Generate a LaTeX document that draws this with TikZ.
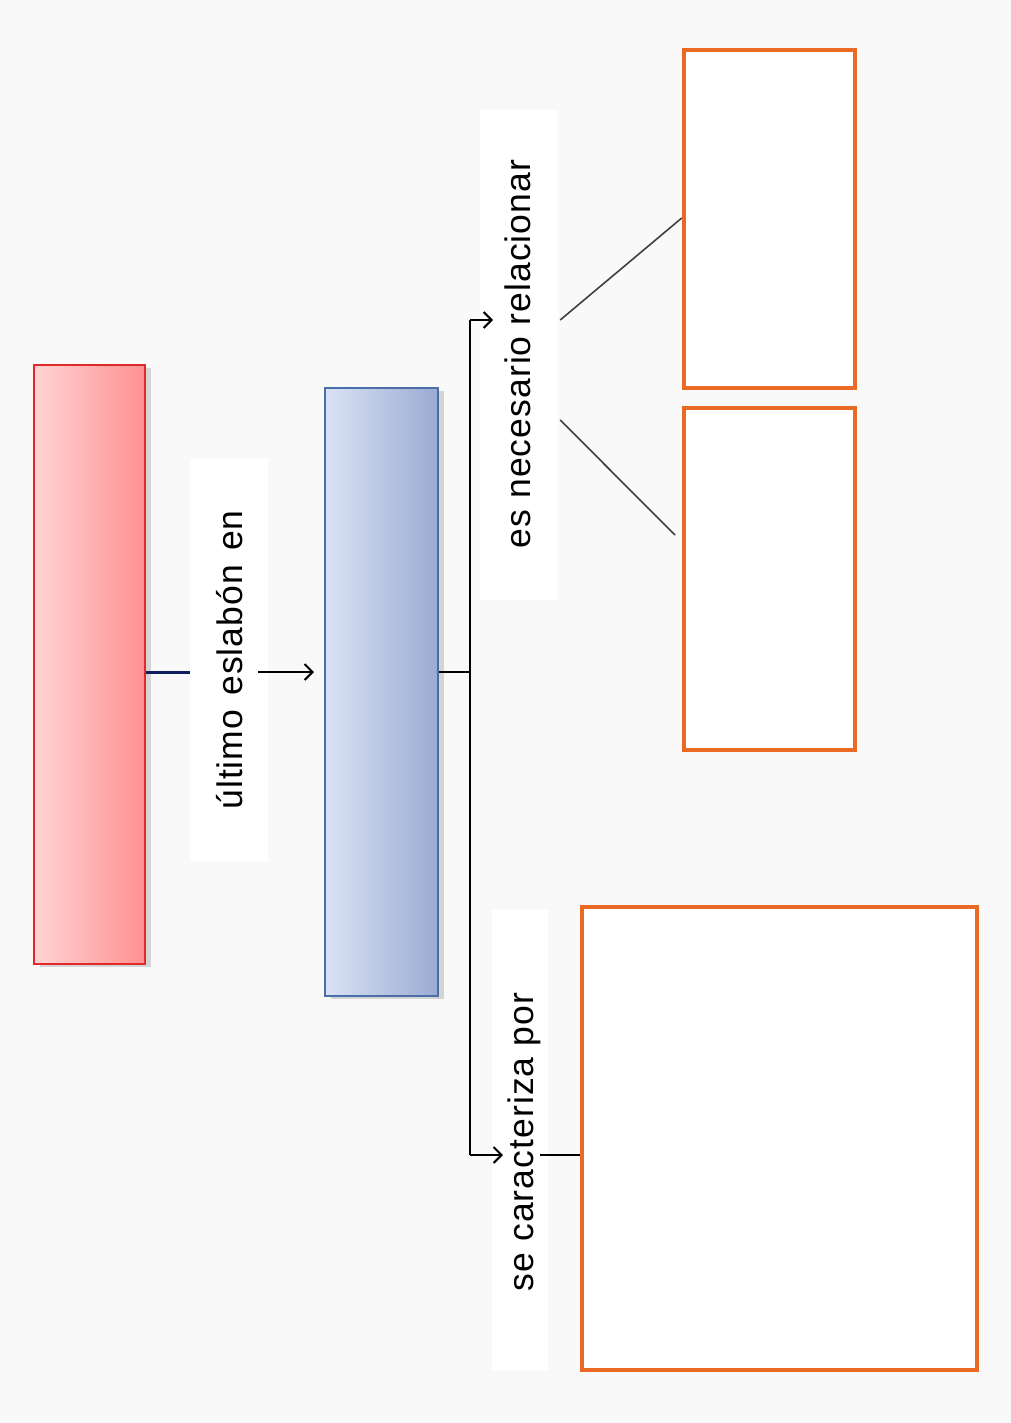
\documentclass[tikz,border=0pt]{standalone}
\usepackage{fontspec}
\setmainfont{Liberation Sans}
\newfontfamily\labfont[LetterSpace=3]{Liberation Sans}
\usetikzlibrary{arrows.meta,shadows}
\definecolor{bgc}{HTML}{F9F9F9}
\definecolor{redL}{HTML}{FFD4D4}
\definecolor{redR}{HTML}{FF9090}
\definecolor{redB}{HTML}{E02A2A}
\definecolor{bluL}{HTML}{DAE3F5}
\definecolor{bluR}{HTML}{9AAAD2}
\definecolor{bluB}{HTML}{4A6EA8}
\definecolor{orng}{HTML}{EA6A24}
\definecolor{navy}{HTML}{0A2060}
\definecolor{diag}{HTML}{404040}
\begin{document}
\begin{tikzpicture}[x=1pt,y=-1pt,
  box/.style={rectangle,inner sep=0pt},
  redbox/.style={box,draw=redB,line width=2pt,left color=redL,right color=redR,
     drop shadow={shadow xshift=6pt,shadow yshift=-3pt,opacity=0.3}},
  blubox/.style={box,draw=bluB,line width=2pt,left color=bluL,right color=bluR,
     drop shadow={shadow xshift=6pt,shadow yshift=-3pt,opacity=0.3}},
  orbox/.style={box,draw=orng,line width=4.5pt,fill=white},
  labbox/.style={box,fill=white},
  txt/.style={inner sep=0pt,font=\labfont\fontsize{35.5}{40}\selectfont,rotate=90,anchor=base},
  conn/.style={line width=2pt,black},
  arr/.style={conn,-{Straight Barb[length=8pt,width=16pt]}},
  diagl/.style={line width=1.6pt,diag}
]
\useasboundingbox (0,0) rectangle (1011,1423);
\fill[bgc] (0,0) rectangle (1011,1423);

% boxes
\node[redbox,minimum width=111,minimum height=599] (red) at (89.5,664.5) {};
\node[blubox,minimum width=113,minimum height=608] (blue) at (381.5,692) {};
\node[orbox,minimum width=171,minimum height=338] (or1) at (769.5,219) {};
\node[orbox,minimum width=171,minimum height=342] (or2) at (769.5,579) {};
\node[orbox,minimum width=395,minimum height=463] (big) at (779.5,1138.5) {};

% label boxes
\node[labbox,minimum width=78,minimum height=404] (lab1) at (229,660) {};
\node[labbox,minimum width=78,minimum height=490] (lab2) at (519,355) {};
\node[labbox,minimum width=56,minimum height=460] (lab3) at (520,1140) {};

% texts
\node[txt] (t1) at (242,660) {último\hspace{14pt}eslabón\hspace{14pt}en};
\node[txt] (t2) at (530,354) {es necesario relacionar};
\node[txt] (t3) at (533,1142) {se caracteriza por};

% connectors
\draw[line width=3pt,navy] (red.east |- 0,672) -- (lab1.west |- 0,672);
\draw[arr] ([xshift=-10pt]lab1.east |- 0,672) -- ([xshift=-10pt]blue.west |- 0,672);
\coordinate (jn) at (470,672);
\coordinate (jt) at (470,320);
\coordinate (jb) at (470,1155);
\draw[conn] (blue.east |- jn) -- (jn);
\draw[conn] (jt) -- (jb);
\draw[arr] (jt) -- (493,320);
\draw[arr] (jb) -- (503,1155);
\draw[conn] ([xshift=-8pt]lab3.east |- jb) -- (big.west |- jb);
\draw[diagl] ([xshift=2pt]lab2.east |- 0,320) -- (or1.west |- 0,218);
\coordinate (d2) at (675,535);
\draw[diagl] ([xshift=2pt]lab2.east |- 0,420) -- (d2);
\end{tikzpicture}
\end{document}
